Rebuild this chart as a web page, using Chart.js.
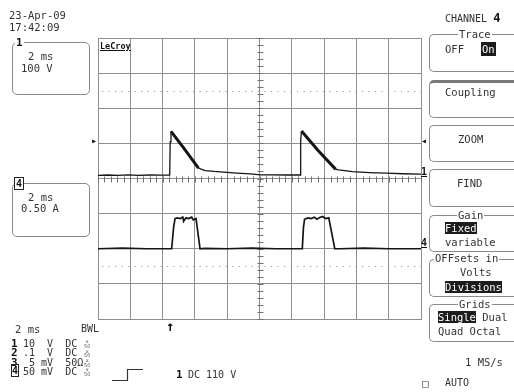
<html>
<head>
  <meta charset="UTF-8">
  <script src="https://cdnjs.cloudflare.com/ajax/libs/Chart.js/4.4.0/chart.umd.min.js"></script>
  <style>
    body {padding: 0; margin: 0; background: #fff;}
    #wrap {position: relative; width: 514px; height: 392px; overflow: hidden;}
    #scope {position: absolute; left: 0; top: 0;}
    .t {position: absolute; font-family: "DejaVu Sans Mono", monospace; font-size: 10.5px; line-height: 12px; color: #333; white-space: pre;}
    .b {font-weight: bold; color: #111;}
    .inv {background: #1c1c1c; color: #fff;}
    .box {position: absolute; border: 1.2px solid #8a8a8a; border-radius: 5px;}
    .menu {position: absolute; left: 429px; width: 100px; border: 1.2px solid #8a8a8a; border-right: none; border-radius: 5px 0 0 5px;}
    .ttl {background: #fff; padding: 0 1px;}
    .tiny {position: absolute; font-family: "DejaVu Sans", sans-serif; font-size: 5px; line-height: 4.5px; color: #555; text-align: center;}
  </style>
</head>
<body>
<div id="wrap">
  <canvas id="scope" width="514" height="392"></canvas>
</div>

<script>
// channel 1 trace (time in ms, value in volts)
const timeCh1  = [0, 0.6, 1.2, 1.9, 2.5, 3.2, 3.9, 4.44, 4.47, 4.52, 5.3, 6.22, 6.63, 7.2, 7.77, 8.6, 9.43, 10.06, 10.8, 11.6, 12.2, 12.52, 12.55, 12.6, 13.6, 14.72, 14.9, 15.75, 16.8, 17.82, 18.9, 19.88, 20];
const voltsCh1 = [0, 1, 0, 1.5, 0, 1, 0.5, 0.5, 95, 125, 78, 20.5, 13.7, 11, 9.1, 6.5, 4.3, 1.4, 1.2, 1.0, 1.5, 1, 100, 126, 72, 17, 15.7, 10.8, 8, 6.3, 4.5, 3.4, 3.2];

// channel 4 trace (time in ms, value in amps)
const timeCh4 = [0, 1.5, 3, 4.2, 4.56, 4.68, 4.77, 4.9, 5.1, 5.25, 5.3, 5.45, 5.6, 5.8, 5.9, 6.07, 6.32, 6.6, 8, 9.5, 11, 12.4, 12.65, 12.72, 12.79, 13.0, 13.2, 13.4, 13.55, 13.7, 13.9, 14.1, 14.29, 14.66, 15, 16.5, 18, 20];
const ampsCh4 = [0, 0.01, 0, 0, 0, 0.3, 0.43, 0.44, 0.43, 0.45, 0.39, 0.44, 0.43, 0.45, 0.41, 0.43, 0, 0.005, 0, 0.01, 0, 0, 0, 0.3, 0.42, 0.44, 0.43, 0.45, 0.42, 0.44, 0.46, 0.43, 0.44, 0, 0, 0.01, 0, 0];

const msPerDiv = 2;
const voltsPerDiv = 100;
const ampsPerDiv = 0.5;
const ch1Offset = 0.09;   // divisions above centre
const ch4Offset = -2.0;

// text overlay
var wrap = document.getElementById('wrap');
function txt(x, cy, s, cls, size) {
  var d = document.createElement('div');
  d.className = 't' + (cls ? ' ' + cls : '');
  d.innerHTML = s;
  d.style.left = x + 'px';
  d.style.top = (cy - 6) + 'px';
  if (size) d.style.fontSize = size + 'px';
  wrap.appendChild(d);
  return d;
}
function box(cls, x, y, w, h) {
  var d = document.createElement('div');
  d.className = cls;
  if (x != null) d.style.left = x + 'px';
  d.style.top = y + 'px';
  if (w != null) d.style.width = w + 'px';
  d.style.height = h + 'px';
  wrap.appendChild(d);
  return d;
}

txt(9, 15, '23-Apr-09');
txt(9, 27, '17:42:09');

box('box', 12, 42, 76, 51);
txt(15, 43, '<span class="ttl">1</span>', 'b', 11);
txt(28, 56, '2 ms');
txt(21, 67.5, '100 V');

box('box', 12, 183, 76, 52);
txt(14, 185, '<span class="ttl" style="border:1px solid #222;padding:0 1px;line-height:10px">4</span>', 'b', 10);
txt(28, 196.5, '2 ms');
txt(21, 208, '0.50 A');

txt(15, 329, '2 ms');
txt(81, 329, 'BWL', '', 10);
txt(11, 343.5, '1', 'b', 11);
txt(11, 353, '2', 'b', 11);
txt(11, 362.5, '3', 'b', 11);
txt(11, 371.5, '<span style="border:1px solid #222;line-height:9px">4</span>', 'b', 10);
txt(23, 343.5, '10  V  DC', '', 10);
txt(23, 353, '.1  V  DC', '', 10);
txt(23, 362.5, ' 5 mV  50Ω', '', 10);
txt(23, 371.5, '50 mV  DC', '', 10);
[343.5, 353, 362.5, 371.5].forEach(function (cy) {
  var d = document.createElement('div');
  d.className = 'tiny';
  d.innerHTML = 'x<br>50';
  d.style.left = '84px';
  d.style.top = (cy - 4.5) + 'px';
  wrap.appendChild(d);
});

// trigger step symbol
wrap.insertAdjacentHTML('beforeend',
  '<svg style="position:absolute;left:0;top:0" width="514" height="392">' +
  '<polyline points="112,380.5 127.5,380.5 127.5,369.5 143,369.5" fill="none" stroke="#333" stroke-width="1.2"/></svg>');
txt(176, 375, '1', 'b', 11);
txt(188, 375, 'DC 110 V', '', 10);

// right hand menu
txt(445, 17.5, 'CHANNEL <b style="font-size:12px;color:#111">4</b>', '', 10);
box('menu', null, 34, null, 36);
txt(458, 34, '<span class="ttl">Trace</span>');
txt(445, 49, 'OFF');
txt(481, 49, '<span class="inv" style="padding:1px 1px">On</span>');
box('menu', null, 80, null, 34).style.borderTop = '3px solid #7a7a7a';
txt(445, 91.5, 'Coupling');
box('menu', null, 125, null, 35);
txt(458, 139, 'ZOOM');
box('menu', null, 169, null, 36);
txt(457, 183, 'FIND');
box('menu', null, 215, null, 35);
txt(457, 215, '<span class="ttl">Gain</span>');
txt(445, 227.7, '<span class="inv">Fixed</span>');
txt(445, 242, 'variable');
box('menu', null, 259, null, 36);
txt(434, 258, '<span class="ttl">OFFsets in</span>');
txt(460, 272, 'Volts');
txt(445, 287, '<span class="inv">Divisions</span>');
box('menu', null, 304, null, 36);
txt(458, 304, '<span class="ttl">Grids</span>');
txt(438, 316.5, '<span class="inv">Single</span> Dual');
txt(438, 331, 'Quad Octal');
txt(465, 361.5, '1 MS/s');
txt(422, 383, '□');
txt(445, 383, 'AUTO', '', 10);

// markers around the grid
txt(91, 140.5, '▸', 'b', 10);
txt(421, 140.5, '◂', 'b', 10);
txt(421, 172, '<u>1</u>', 'b', 10);
txt(421, 243, '<u>4</u>', 'b', 10);
txt(166, 326, '↑', 'b', 14);
txt(100, 46, '<u>LeCroy</u>', 'b', 8.5);

// centre axis minor ticks and the dotted reference lines
const scopeMarks = {
  id: 'scopeMarks',
  beforeDatasetsDraw(chart) {
    const ctx = chart.ctx, a = chart.chartArea;
    const x = chart.scales.x, y = chart.scales.y;
    ctx.save();
    ctx.strokeStyle = '#999';
    ctx.lineWidth = 1;
    ctx.setLineDash([1.2, 5.3]);
    [2.5, -2.5].forEach(function (v) {
      const py = Math.round(y.getPixelForValue(v)) + 0.5;
      ctx.beginPath();
      ctx.moveTo(a.left + 4, py);
      ctx.lineTo(a.right, py);
      ctx.stroke();
    });
    ctx.setLineDash([]);
    ctx.strokeStyle = '#707070';
    const cx = Math.round(x.getPixelForValue(10)) + 0.5;
    const cy = Math.round(y.getPixelForValue(0)) + 0.5;
    ctx.beginPath();
    for (let i = 0; i <= 50; i++) {
      const px = Math.round(x.getPixelForValue(i * msPerDiv / 5)) + 0.5;
      ctx.moveTo(px, cy - 3); ctx.lineTo(px, cy + 3);
    }
    for (let i = 0; i <= 40; i++) {
      const py = Math.round(y.getPixelForValue(-4 + i * 0.2)) + 0.5;
      ctx.moveTo(cx - 3, py); ctx.lineTo(cx + 3, py);
    }
    ctx.stroke();
    ctx.restore();
  }
};

var ctx = document.getElementById('scope').getContext('2d');
var scope = new Chart(ctx, {
  type: 'line',
  data: {
    datasets: [{
      label: 'CH1',
      data: timeCh1.map(function (t, i) { return {x: t, y: voltsCh1[i]}; }),
      yAxisID: 'y1',
      borderColor: '#151515',
      borderWidth: 1.3,
      segment: {
        borderWidth: function (c) { return (c.p0.parsed.y - c.p1.parsed.y > 10) ? 3 : 1.3; }
      }
    }, {
      label: 'CH4',
      data: timeCh4.map(function (t, i) { return {x: t, y: ampsCh4[i]}; }),
      yAxisID: 'y4',
      borderColor: '#151515',
      borderWidth: 1.7
    }]
  },
  options: {
    responsive: false,
    animation: false,
    devicePixelRatio: 1,
    layout: {padding: {left: 98, top: 38, right: 93, bottom: 73}},
    elements: {point: {radius: 0}, line: {tension: 0}},
    plugins: {legend: {display: false}, tooltip: {enabled: false}},
    scales: {
      x: {
        type: 'linear', min: 0, max: 10 * msPerDiv,
        ticks: {display: false, stepSize: msPerDiv},
        grid: {color: '#8f8f8f', lineWidth: 1, drawTicks: false},
        border: {display: true, color: '#8f8f8f'}
      },
      y: {
        type: 'linear', min: -4, max: 4,
        ticks: {display: false, stepSize: 1},
        grid: {color: '#8f8f8f', lineWidth: 1, drawTicks: false},
        border: {display: true, color: '#8f8f8f'}
      },
      y1: {display: false, min: (-4 - ch1Offset) * voltsPerDiv, max: (4 - ch1Offset) * voltsPerDiv},
      y4: {display: false, min: (-4 - ch4Offset) * ampsPerDiv, max: (4 - ch4Offset) * ampsPerDiv}
    }
  },
  plugins: [scopeMarks]
});
</script>
</body>
</html>
